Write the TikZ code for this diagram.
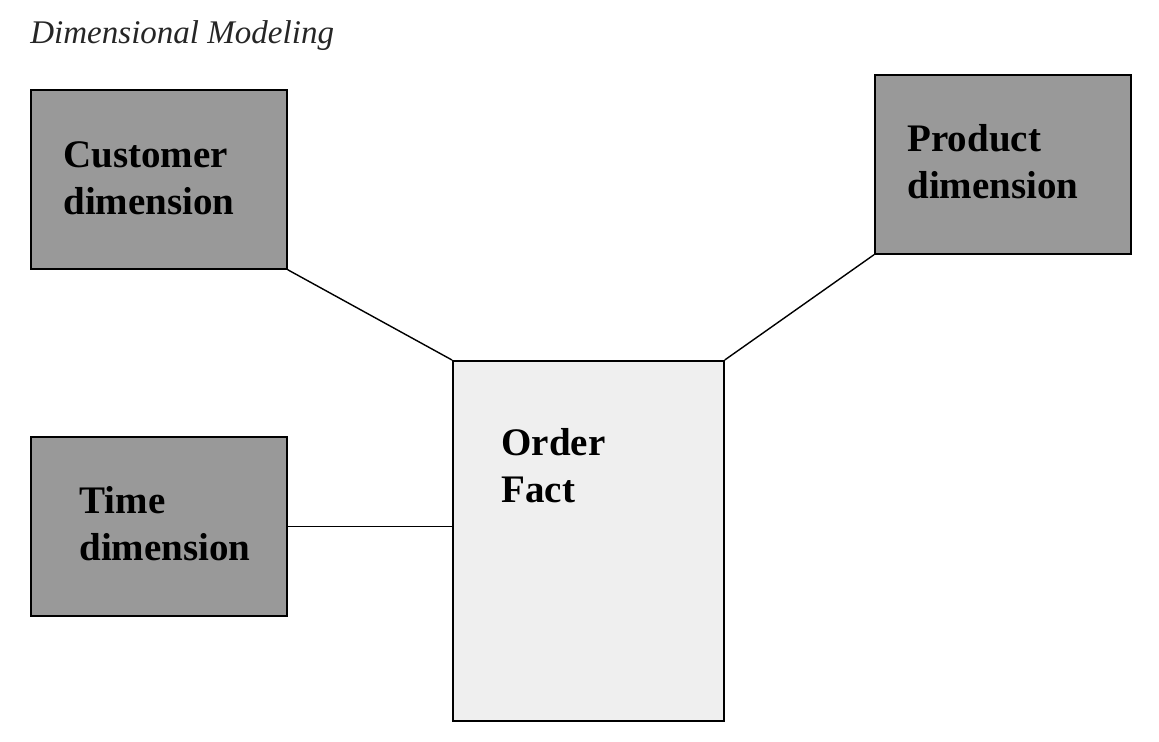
\documentclass[tikz,border=0pt]{standalone}
\usepackage{fontspec}
\setmainfont{Liberation Serif}
\usetikzlibrary{positioning}

\definecolor{dimgray}{HTML}{999999}
\definecolor{factgray}{HTML}{EFEFEF}

\tikzset{
  dimbox/.style={draw, line width=1pt, fill=dimgray, anchor=north west,
                 minimum width=5.12cm, minimum height=3.58cm, inner sep=0pt},
  factbox/.style={draw, line width=1pt, fill=factgray, anchor=north west,
                  minimum width=5.42cm, minimum height=7.2cm, inner sep=0pt},
  boxtext/.style={anchor=base west, inner sep=0pt, align=left,
                  font=\bfseries\fontsize{22.2}{26.7}\selectfont},
  link/.style={line width=0.8pt}
}

\begin{document}
\begin{tikzpicture}[x=0.02cm, y=-0.02cm]
   \useasboundingbox (0,0) rectangle (1159,741);

   \node [anchor=base west, inner sep=0pt, font=\itshape\fontsize{18.8}{20}\selectfont, text=black!85]
      (title) at (30,43) {Dimensional Modeling};

   % dimension boxes and the fact table
   \foreach \n/\x/\y in {cust/30/89, prod/874/74, time/30/436}
     \node [dimbox] (v\n) at (\x,\y) {};
   \node [factbox] (vfact) at (452,360) {};

   % text sits on the baseline of its last line
   \foreach \n/\x/\y/\t in {cust/63/214/Customer\\dimension, prod/907/198/Product\\dimension,
                            time/79/560/Time\\dimension, fact/501/502/Order\\Fact}
     \node [boxtext] (t\n) at (\x,\y) {\t};

   \draw [link] (vcust.south east) -- (vfact.north west);
   \draw [link] (vprod.south west) -- (vfact.north east);
   \draw [link] (vtime.east) -- (vtime.east -| vfact.west);

\end{tikzpicture}
\end{document}
